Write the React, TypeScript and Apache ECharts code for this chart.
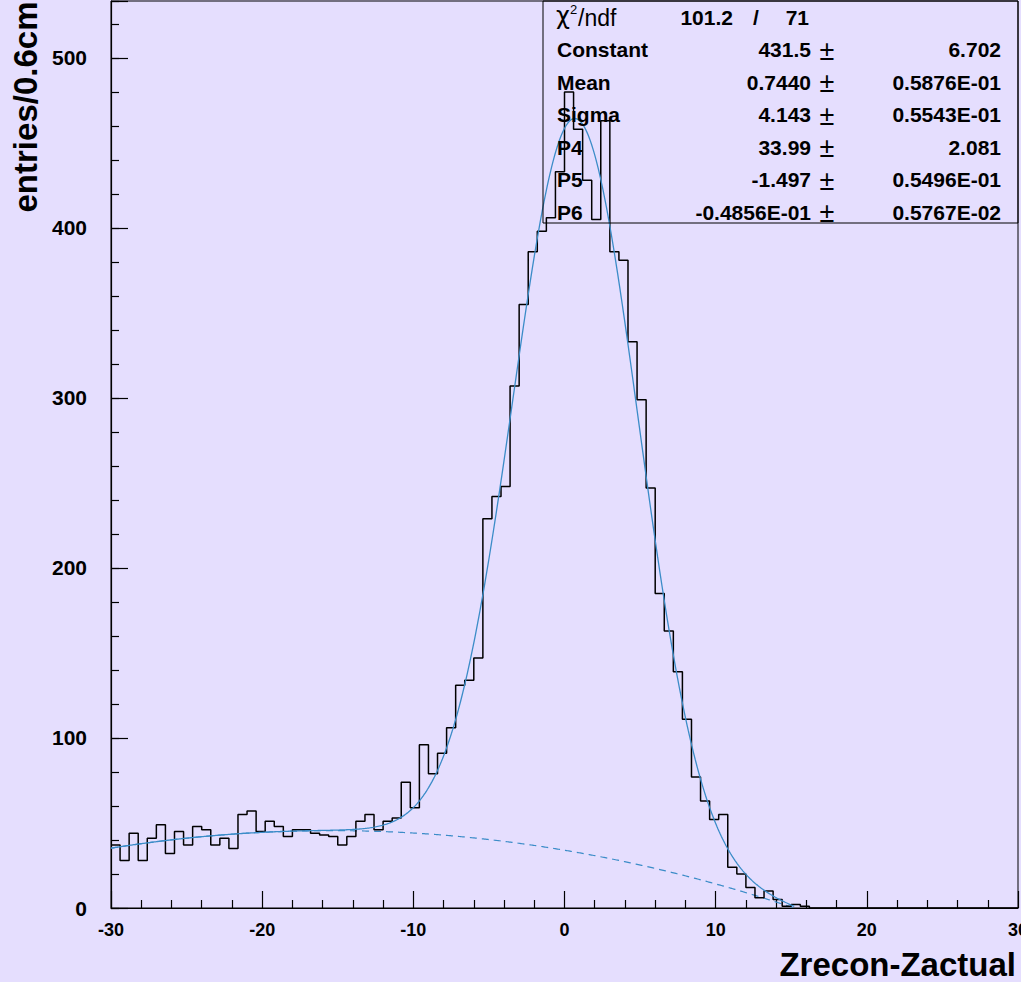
import React, { useEffect, useRef } from 'react';
import * as echarts from 'echarts';

// ---------- data ----------
const BIN_MIN = -30;
const BIN_WIDTH = 0.6;
const binCounts = [
  37, 28, 44, 28, 41, 49, 32, 45, 37, 48,
  46, 37, 41, 35, 55, 57, 45, 51, 48, 42,
  46, 46, 44, 43, 42, 37, 42, 51, 55, 46,
  51, 53, 74, 59, 96, 79, 91, 106, 131, 134,
  147, 229, 242, 248, 307, 355, 386, 398, 406, 433,
  480, 458, 428, 405, 463, 386, 381, 333, 299, 247,
  185, 163, 139, 111, 77, 63, 52, 55, 24, 20,
  12, 6, 10, 5, 1, 2, 1, 0, 0, 0,
  0, 0, 0, 0, 0, 0, 0, 0, 0, 0,
  0, 0, 0, 0, 0, 0, 0, 0, 0, 0,
];

// fit: gaus(Constant, Mean, Sigma) + pol2(P4, P5, P6)
const fitParamNames = ['Constant', 'Mean', 'Sigma', 'P4', 'P5', 'P6'];
const fitParamValues = [431.5, 0.744, 4.143, 33.99, -1.497, -0.04856];
const fitParamLabels = ['431.5', '0.7440', '4.143', '33.99', '-1.497', '-0.4856E-01'];
const fitParamErrors = ['6.702', '0.5876E-01', '0.5543E-01', '2.081', '0.5496E-01', '0.5767E-02'];
const chi2Label = '101.2';
const ndfLabel = '71';
const FIT_MIN = -30;
const FIT_MAX = 15.2;

const X_MIN = -30;
const X_MAX = 30;
const Y_MIN = 0;
const Y_MAX = 533.5;

const xTitle = 'Zrecon-Zactual';
const yTitle = 'entries/0.6cm';

// ---------- styles ----------
const BG = '#e5defe';
const FIT_COLOR = '#3b8cc8';
const FONT = '"Liberation Sans", Arial, Helvetica, sans-serif';

// ---------- derived ----------
const histPoints: number[][] = binCounts.map((v, i) => [BIN_MIN + i * BIN_WIDTH, v]);
histPoints.push([BIN_MIN + binCounts.length * BIN_WIDTH, binCounts[binCounts.length - 1]]);

const [C, M, S, P4, P5, P6] = fitParamValues;
const bg = (x: number) => P4 + P5 * x + P6 * x * x;
const full = (x: number) => C * Math.exp(-0.5 * ((x - M) / S) ** 2) + bg(x);
const fitPoints: number[][] = [];
const bgPoints: number[][] = [];
const N = 600;
for (let k = 0; k <= N; k++) {
  const x = FIT_MIN + ((FIT_MAX - FIT_MIN) * k) / N;
  fitPoints.push([x, full(x)]);
  bgPoints.push([x, Math.max(bg(x), 0)]);
}

// ---------- stats box graphics ----------
const BOX = { x: 543, y: 1, w: 475, h: 222 };
const rowY = [49.5, 82, 114.5, 147, 179.5, 212];
const boldFont = `bold 21px ${FONT}`;
const statsGraphics: any[] = [
  {
    type: 'rect',
    shape: { x: BOX.x, y: BOX.y, width: BOX.w, height: BOX.h },
    style: { fill: 'none', stroke: '#000', lineWidth: 1 },
    z: 10,
  },
  { type: 'text', x: 556, y: 16, style: { text: 'χ', font: `24px "DejaVu Sans", ${FONT}`, fill: '#000', verticalAlign: 'middle' }, z: 10 },
  { type: 'text', x: 570, y: 9, style: { text: '2', font: `13px ${FONT}`, fill: '#000', verticalAlign: 'middle' }, z: 10 },
  { type: 'text', x: 578, y: 18, style: { text: '/ndf', font: `23px ${FONT}`, fill: '#000', verticalAlign: 'middle' }, z: 10 },
  { type: 'text', x: 733, y: 17.5, style: { text: chi2Label, font: boldFont, fill: '#000', align: 'right', verticalAlign: 'middle' }, z: 10 },
  { type: 'text', x: 756, y: 17.5, style: { text: '/', font: boldFont, fill: '#000', align: 'center', verticalAlign: 'middle' }, z: 10 },
  { type: 'text', x: 809, y: 17.5, style: { text: ndfLabel, font: boldFont, fill: '#000', align: 'right', verticalAlign: 'middle' }, z: 10 },
];
fitParamNames.forEach((name, i) => {
  const y = rowY[i];
  statsGraphics.push(
    { type: 'text', x: 557, y, style: { text: name, font: boldFont, fill: '#000', verticalAlign: 'middle' }, z: 10 },
    { type: 'text', x: 811, y, style: { text: fitParamLabels[i], font: boldFont, fill: '#000', align: 'right', verticalAlign: 'middle' }, z: 10 },
    { type: 'text', x: 827, y: y + 1, style: { text: '±', font: `27px ${FONT}`, fill: '#000', align: 'center', verticalAlign: 'middle' }, z: 10 },
    { type: 'text', x: 1001, y, style: { text: fitParamErrors[i], font: boldFont, fill: '#000', align: 'right', verticalAlign: 'middle' }, z: 10 },
  );
});

const titleGraphics: any[] = [
  {
    type: 'text',
    x: 1016,
    y: 964.5,
    style: { text: xTitle, font: `bold 33px ${FONT}`, fill: '#000', align: 'right', verticalAlign: 'middle' },
  },
  {
    type: 'text',
    x: 25,
    y: 107,
    rotation: Math.PI / 2,
    style: { text: yTitle, font: `bold 33px ${FONT}`, fill: '#000', align: 'center', verticalAlign: 'middle' },
  },
];

const option: any = {
  animation: false,
  backgroundColor: BG,
  grid: {
    left: 111,
    right: 3,
    top: 1,
    bottom: 74,
    containLabel: false,
    outerBoundsMode: 'none',
    show: true,
    borderColor: '#000',
    borderWidth: 1,
    backgroundColor: 'transparent',
  },
  xAxis: {
    type: 'value',
    min: X_MIN,
    max: X_MAX,
    interval: 10,
    axisLine: { show: true, onZero: false, lineStyle: { color: '#000', width: 1.2 } },
    axisTick: { show: true, inside: true, length: 17, lineStyle: { color: '#000', width: 1.2 } },
    minorTick: { show: true, splitNumber: 5, length: 8, lineStyle: { color: '#000', width: 1.2 } },
    splitLine: { show: false },
    axisLabel: {
      color: '#000',
      fontFamily: FONT,
      fontWeight: 'bold',
      fontSize: 18,
      margin: 13,
      showMinLabel: true,
      showMaxLabel: true,
      hideOverlap: false,
    },
  },
  yAxis: [
    {
      type: 'value',
      min: Y_MIN,
      max: Y_MAX,
      interval: 20,
      axisLine: { show: true, onZero: false, lineStyle: { color: '#000', width: 1.2 } },
      axisTick: { show: true, inside: true, length: 8, lineStyle: { color: '#000', width: 1.2 } },
      splitLine: { show: false },
      axisLabel: {
        color: '#000',
        fontFamily: FONT,
        fontWeight: 'bold',
        fontSize: 21,
        margin: 24,
        formatter: (v: number) => (Math.abs(v % 100) < 1e-6 ? String(v) : ''),
      },
    },
    {
      type: 'value',
      min: Y_MIN,
      max: Y_MAX,
      interval: 100,
      position: 'left',
      offset: 0,
      axisLine: { show: false, onZero: false },
      axisTick: { show: true, inside: true, length: 17, lineStyle: { color: '#000', width: 1.2 } },
      splitLine: { show: false },
      axisLabel: { show: false },
    },
  ],
  series: [
    {
      type: 'line',
      name: 'background',
      data: bgPoints,
      yAxisIndex: 0,
      symbol: 'none',
      lineStyle: { color: FIT_COLOR, width: 1.2, type: [7, 5] },
      z: 3,
    },
    {
      type: 'line',
      name: 'histogram',
      data: histPoints,
      yAxisIndex: 0,
      step: 'end',
      symbol: 'none',
      lineStyle: { color: '#000', width: 1.5 },
      z: 4,
    },
    {
      type: 'line',
      name: 'fit',
      data: fitPoints,
      yAxisIndex: 0,
      symbol: 'none',
      lineStyle: { color: FIT_COLOR, width: 1.3 },
      z: 5,
    },
  ],
  graphic: [...statsGraphics, ...titleGraphics],
};

export default function App() {
  const ref = useRef<HTMLDivElement>(null);
  useEffect(() => {
    document.body.style.margin = '0';
    document.body.style.background = BG;
    const chart = echarts.init(ref.current!, null, { renderer: 'svg' });
    chart.setOption(option);
    return () => chart.dispose();
  }, []);
  return <div ref={ref} style={{ width: 1021, height: 982, background: BG }} />;
}
